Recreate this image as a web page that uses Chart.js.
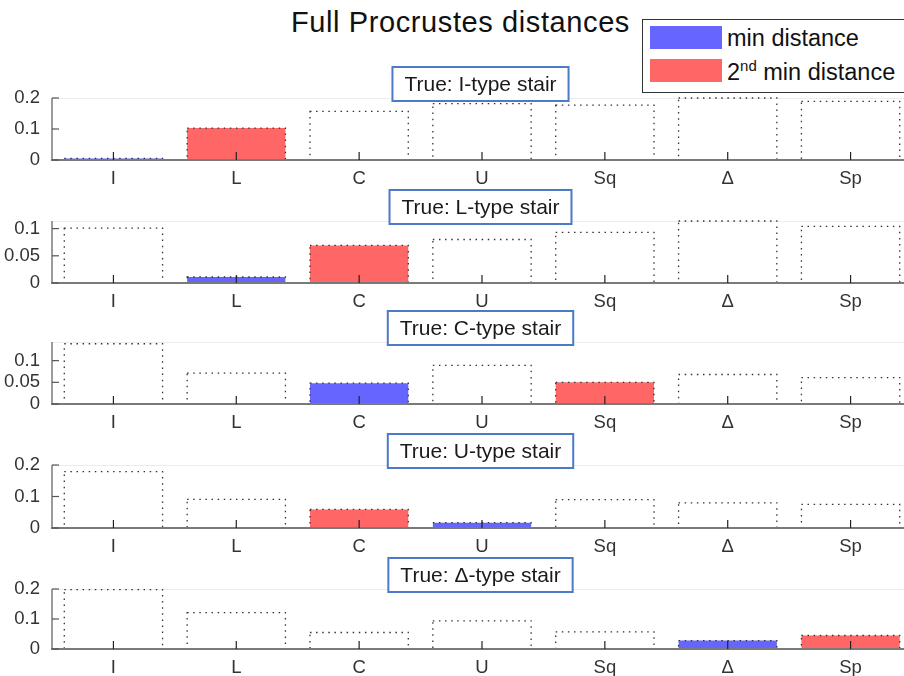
<!DOCTYPE html>
<html>
<head>
<meta charset="utf-8">
<title>Full Procrustes distances</title>
<script src="https://cdn.jsdelivr.net/npm/chart.js@4.4.0/dist/chart.umd.min.js"></script>
<style>
    html, body {
        margin: 0;
        padding: 0;
        background: #fff;
        width: 904px;
        height: 676px;
        overflow: hidden;
    }
    #page {
        position: relative;
        width: 904px;
        height: 676px;
        font-family: "Liberation Sans", Arial, sans-serif;
        color: #111;
    }
    #title {
        position: absolute;
        left: 0;
        top: 8px;
        width: 921px;
        text-align: center;
        font-size: 29px;
        line-height: 29px;
        letter-spacing: 0.6px;
    }
    .panel {
        position: absolute;
        left: 0;
        width: 912px;
    }
    #legend {
        position: absolute;
        left: 642px;
        top: 19px;
        width: 280px;
        height: 72px;
        border: 1.5px solid #333;
        background: #fff;
        z-index: 10;
    }
    .swatch {
        position: absolute;
        left: 7px;
        width: 72px;
        height: 23px;
    }
    .entry {
        position: absolute;
        left: 84px;
        font-size: 23.5px;
        line-height: 24px;
        white-space: nowrap;
    }
    .entry sup {
        font-size: 15px;
        line-height: 0;
        vertical-align: 9px;
    }
</style>
</head>
<body>
<div id="page">
    <div id="title">Full Procrustes distances</div>
    <div id="legend">
        <div class="swatch" style="top:6px; background:#6666ff;"></div>
        <div class="entry" style="top:6px;">min distance</div>
        <div class="swatch" style="top:39px; background:#ff6666;"></div>
        <div class="entry" style="top:40px;">2<sup>nd</sup> min distance</div>
    </div>
</div>
<script>
// candidate stair types (x axis) and the true type of each subplot
const categories = ['I', 'L', 'C', 'U', 'Sq', 'Δ', 'Sp'];
const trueTypes = ['I', 'L', 'C', 'U', 'Δ'];

// full Procrustes distance to each candidate, one array per true type
const distI = [0.005, 0.103, 0.157, 0.182, 0.177, 0.200, 0.189];
const distL = [0.101, 0.011, 0.069, 0.080, 0.093, 0.114, 0.104];
const distC = [0.139, 0.071, 0.048, 0.089, 0.050, 0.068, 0.061];
const distU = [0.179, 0.091, 0.059, 0.017, 0.090, 0.080, 0.075];
const distDelta = [0.198, 0.121, 0.055, 0.094, 0.057, 0.028, 0.045];

// y axis limits and tick labels per subplot
const yMax = [0.2, 0.114, 0.143, 0.2, 0.2];
const yTicks = [
    [0, 0.1, 0.2],
    [0, 0.05, 0.1],
    [0, 0.05, 0.1],
    [0, 0.1, 0.2],
    [0, 0.1, 0.2]
];

const distances = [distI, distL, distC, distU, distDelta];

// layout: baseline (page y) and plot height of each subplot
const baselines = [160, 283, 404.3, 527.7, 648.7];
const heights = [62, 62, 62, 63, 60];
const PAD_TOP = 42;
const AXIS_BOTTOM = 40;
const AXIS_LEFT = 52;

const MIN_COLOR = '#6666ff';
const SECOND_COLOR = '#ff6666';
const FONT = '"Liberation Sans", Arial, sans-serif';

function barColors(values) {
    const order = values.map((v, i) => i).sort((a, b) => values[a] - values[b]);
    return values.map((v, i) => {
        if (i === order[0]) return MIN_COLOR;
        if (i === order[1]) return SECOND_COLOR;
        return 'rgba(255, 255, 255, 0)';
    });
}

function line(ctx, x1, y1, x2, y2) {
    ctx.beginPath();
    ctx.moveTo(x1, y1);
    ctx.lineTo(x2, y2);
    ctx.stroke();
}

// MATLAB-like axes: dotted bar edges, inward ticks, boxed subplot title
const matlabAxes = {
    id: 'matlabAxes',
    afterDatasetsDraw(chart) {
        const ctx = chart.ctx;
        const area = chart.chartArea;
        const xScale = chart.scales.x;
        const yScale = chart.scales.y;
        const meta = chart.getDatasetMeta(0);
        const y0 = yScale.getPixelForValue(0);

        ctx.save();

        // faint top edge of the axes box
        ctx.strokeStyle = '#ececec';
        ctx.lineWidth = 1;
        line(ctx, area.left, area.top + 0.5, area.right, area.top + 0.5);

        // dotted bar outlines
        ctx.strokeStyle = '#333';
        ctx.lineWidth = 1.3;
        ctx.setLineDash([1.5, 4.6]);
        meta.data.forEach(bar => {
            const p = bar.getProps(['x', 'y', 'base', 'width'], true);
            ctx.strokeRect(p.x - p.width / 2, p.y, p.width, p.base - p.y);
        });
        ctx.setLineDash([]);

        // axis lines
        ctx.strokeStyle = '#7a7a7a';
        ctx.lineWidth = 2;
        line(ctx, area.left - 1, y0, area.right, y0);
        ctx.lineWidth = 1.5;
        line(ctx, area.left, area.top, area.left, y0);

        // y ticks pointing inward
        ctx.strokeStyle = '#555';
        ctx.lineWidth = 1.2;
        yScale.ticks.forEach(t => {
            const py = yScale.getPixelForValue(t.value);
            line(ctx, area.left, py, area.left + 7, py);
        });

        // x ticks pointing up from the baseline
        ctx.strokeStyle = '#222';
        xScale.ticks.forEach((t, i) => {
            const px = xScale.getPixelForTick(i);
            line(ctx, px, y0, px, y0 - 8);
        });

        ctx.restore();
    },
    afterDraw(chart, args, opts) {
        const ctx = chart.ctx;
        const area = chart.chartArea;
        ctx.save();
        ctx.font = '21px ' + FONT;
        const w = ctx.measureText(opts.text).width + 24;
        const h = 34;
        const cx = (area.left + area.right) / 2 - 1.5;
        const bottom = area.top + 3;
        ctx.fillStyle = '#fff';
        ctx.fillRect(cx - w / 2, bottom - h, w, h);
        ctx.strokeStyle = '#4a7ac8';
        ctx.lineWidth = 2;
        ctx.strokeRect(cx - w / 2, bottom - h, w, h);
        ctx.fillStyle = '#1a1a1a';
        ctx.textAlign = 'center';
        ctx.textBaseline = 'middle';
        ctx.fillText(opts.text, cx, bottom - h / 2 + 1);
        ctx.restore();
    }
};

const page = document.getElementById('page');

distances.forEach((values, k) => {
    const wrap = document.createElement('div');
    wrap.className = 'panel';
    wrap.style.top = (baselines[k] - heights[k] - PAD_TOP) + 'px';
    wrap.style.height = (PAD_TOP + heights[k] + AXIS_BOTTOM) + 'px';
    const canvas = document.createElement('canvas');
    wrap.appendChild(canvas);
    page.insertBefore(wrap, document.getElementById('legend'));

    new Chart(canvas, {
        type: 'bar',
        data: {
            labels: categories,
            datasets: [{
                data: values,
                backgroundColor: barColors(values),
                borderWidth: 0,
                barPercentage: 0.8,
                categoryPercentage: 1
            }]
        },
        options: {
            responsive: true,
            maintainAspectRatio: false,
            animation: false,
            layout: {
                padding: { top: PAD_TOP, left: 0, right: 0, bottom: 0 }
            },
            plugins: {
                legend: { display: false },
                tooltip: { enabled: false },
                matlabAxes: { text: 'True: ' + trueTypes[k] + '-type stair' }
            },
            scales: {
                x: {
                    grid: { display: false },
                    border: { display: false },
                    ticks: {
                        color: '#333',
                        font: { family: FONT, size: 18.5 },
                        padding: 0,
                        autoSkip: false,
                        maxRotation: 0
                    },
                    afterFit: scale => { scale.height = AXIS_BOTTOM; }
                },
                y: {
                    min: 0,
                    max: yMax[k],
                    grid: { display: false },
                    border: { display: false },
                    ticks: {
                        color: '#333',
                        font: { family: FONT, size: 18.5 },
                        padding: 4,
                        callback: value => String(value)
                    },
                    afterBuildTicks: scale => {
                        scale.ticks = yTicks[k].map(v => ({ value: v }));
                    },
                    afterFit: scale => { scale.width = AXIS_LEFT; }
                }
            }
        },
        plugins: [matlabAxes]
    });
});
</script>
</body>
</html>
